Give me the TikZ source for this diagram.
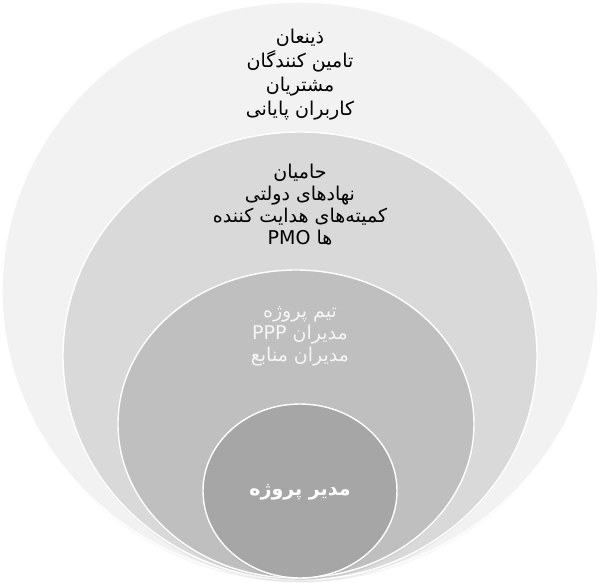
\documentclass[tikz,border=0pt]{standalone}
\usepackage{fontspec}
\newfontfamily\fa[Script=Arabic]{DejaVu Sans}
\TeXXeTstate=1
\begin{document}
\begin{tikzpicture}[x=1pt,y=-1pt,
  ring/.style={draw=white,line width=1.4pt},
  shade/.style={fill=black,opacity=0.05},
  lbl/.style={align=center,font=\fa\fontsize{19}{24}\selectfont,inner sep=0pt}]
\useasboundingbox (0,0) rectangle (600,582);
\fill[white] (0,0) rectangle (600,582);
% outer
\fill[shade] (300,293) ellipse [x radius=297pt,y radius=289pt];
\path[ring,fill={rgb,255:red,242;green,242;blue,242}] (300,291) ellipse [x radius=298pt,y radius=289pt];
% second
\fill[shade] (300,358.5) ellipse [x radius=236pt,y radius=224pt];
\path[ring,fill={rgb,255:red,217;green,217;blue,217}] (300,356) ellipse [x radius=237pt,y radius=224pt];
% third
\fill[shade] (296,426.5) ellipse [x radius=177pt,y radius=154pt];
\path[ring,fill={rgb,255:red,191;green,191;blue,191}] (296,424) ellipse [x radius=178pt,y radius=154pt];
% inner
\fill[shade] (300,493.5) ellipse [x radius=96pt,y radius=87pt];
\path[ring,fill={rgb,255:red,166;green,166;blue,166}] (300,491) ellipse [x radius=97pt,y radius=87pt];
% texts
\node[lbl,text=black] (t1) at (300,75) {\beginR ذینعان\endR\\ \beginR تامین کنندگان\endR\\ \beginR مشتریان\endR\\ \beginR کاربران پایانی\endR};
\node[lbl,text=black,font=\fa\fontsize{19}{22}\selectfont] (t2) at (300,205) {\beginR حامیان\endR\\ \beginR نهادهای دولتی\endR\\ \beginR کمیته‌های هدایت کننده\endR\\ \beginR ها \beginL PMO\endL\endR};
\node[lbl,text={rgb,255:red,245;green,245;blue,245},font=\fa\fontsize{19}{22}\selectfont] (t3) at (300,336) {\beginR تیم پروژه\endR\\ \beginR مدیران \beginL PPP\endL\endR\\ \beginR مدیران منابع\endR};
\node[lbl,text=white,font=\fa\bfseries\fontsize{19}{22}\selectfont] (t4) at (300,492) {\beginR مدیر پروژه\endR};
\end{tikzpicture}
\end{document}
